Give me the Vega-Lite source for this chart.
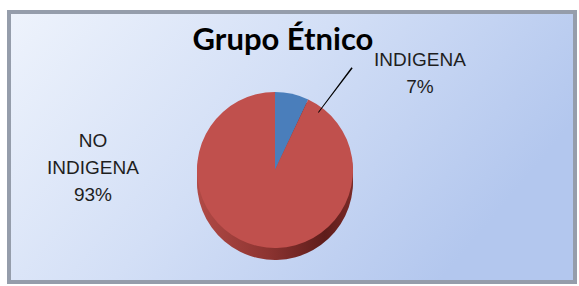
{
  "$schema": "https://vega.github.io/schema/vega-lite/v6.json",
  "width": 579,
  "height": 286,
  "autosize": {"type": "fit", "contains": "padding"},
  "padding": {"left": 9, "top": 12, "right": 4, "bottom": 4},
  "background": "#ffffff",
  "view": {
    "stroke": "#959dab",
    "strokeWidth": 4,
    "fill": {
      "gradient": "linear",
      "x1": 0, "y1": 0, "x2": 1, "y2": 0.4,
      "stops": [
        {"offset": 0, "color": "#eef3fc"},
        {"offset": 0.5, "color": "#d3dff6"},
        {"offset": 1, "color": "#b3c7ee"}
      ]
    }
  },
  "data": {
    "values": [
      {"grupo": "INDIGENA", "pct": 7, "label": "INDIGENA\n7%"},
      {"grupo": "NO INDIGENA", "pct": 93, "label": "NO\nINDIGENA\n93%"}
    ]
  },
  "encoding": {
    "theta": {"field": "pct", "type": "quantitative", "stack": true},
    "detail": {"field": "grupo", "type": "nominal"}
  },
  "layer": [
    {
      "mark": {"type": "arc", "radius": 78, "xOffset": -17, "yOffset": 35,
        "fill": {"gradient": "linear", "x1": 0, "y1": 0, "x2": 1, "y2": 0,
          "stops": [
            {"offset": 0, "color": "#b14a46"},
            {"offset": 0.45, "color": "#8d3431"},
            {"offset": 0.82, "color": "#5e1d1b"},
            {"offset": 1, "color": "#7a2a27"}
          ]}}
    },
    {
      "mark": {"type": "arc", "radius": 78, "xOffset": -17, "yOffset": 31,
        "fill": {"gradient": "linear", "x1": 0, "y1": 0, "x2": 1, "y2": 0,
          "stops": [
            {"offset": 0, "color": "#b14a46"},
            {"offset": 0.45, "color": "#8d3431"},
            {"offset": 0.82, "color": "#5e1d1b"},
            {"offset": 1, "color": "#7a2a27"}
          ]}}
    },
    {
      "mark": {"type": "arc", "radius": 78, "xOffset": -17, "yOffset": 27,
        "fill": {"gradient": "linear", "x1": 0, "y1": 0, "x2": 1, "y2": 0,
          "stops": [
            {"offset": 0, "color": "#b14a46"},
            {"offset": 0.45, "color": "#8d3431"},
            {"offset": 0.82, "color": "#5e1d1b"},
            {"offset": 1, "color": "#7a2a27"}
          ]}}
    },
    {
      "mark": {"type": "arc", "radius": 78, "xOffset": -17, "yOffset": 23},
      "encoding": {
        "color": {
          "field": "grupo",
          "type": "nominal",
          "scale": {"domain": ["INDIGENA", "NO INDIGENA"], "range": ["#4a7ebb", "#c0504d"]},
          "legend": null
        }
      }
    },
    {
      "transform": [{"filter": "datum.grupo === 'INDIGENA'"}],
      "mark": {"type": "arc", "theta": 0.64, "theta2": 0.652, "radius": 128, "radius2": 72,
        "xOffset": -17, "yOffset": 23, "fill": "#000000"},
      "encoding": {"theta": null, "detail": null}
    },
    {
      "transform": [{"filter": "datum.grupo === 'INDIGENA'"}],
      "mark": {"type": "text", "text": "Grupo Étnico", "dx": -9, "dy": -97,
        "font": "Lato", "fontSize": 31, "fontWeight": "bold", "fill": "#000000",
        "align": "center", "baseline": "alphabetic"},
      "encoding": {"theta": null, "detail": null}
    },
    {
      "transform": [{"filter": "datum.grupo === 'INDIGENA'"}],
      "mark": {"type": "text", "dx": 128, "dy": -87,
        "font": "Liberation Sans", "fontSize": 19, "lineBreak": "\n", "lineHeight": 27,
        "align": "center", "baseline": "middle", "fill": "#1e1e1e"},
      "encoding": {
        "theta": null,
        "detail": null,
        "text": {"field": "label", "type": "nominal"}
      }
    },
    {
      "transform": [{"filter": "datum.grupo === 'NO INDIGENA'"}],
      "mark": {"type": "text", "dx": -199, "dy": -6,
        "font": "Liberation Sans", "fontSize": 19, "lineBreak": "\n", "lineHeight": 27,
        "align": "center", "baseline": "middle", "fill": "#1e1e1e"},
      "encoding": {
        "theta": null,
        "detail": null,
        "text": {"field": "label", "type": "nominal"}
      }
    }
  ]
}
